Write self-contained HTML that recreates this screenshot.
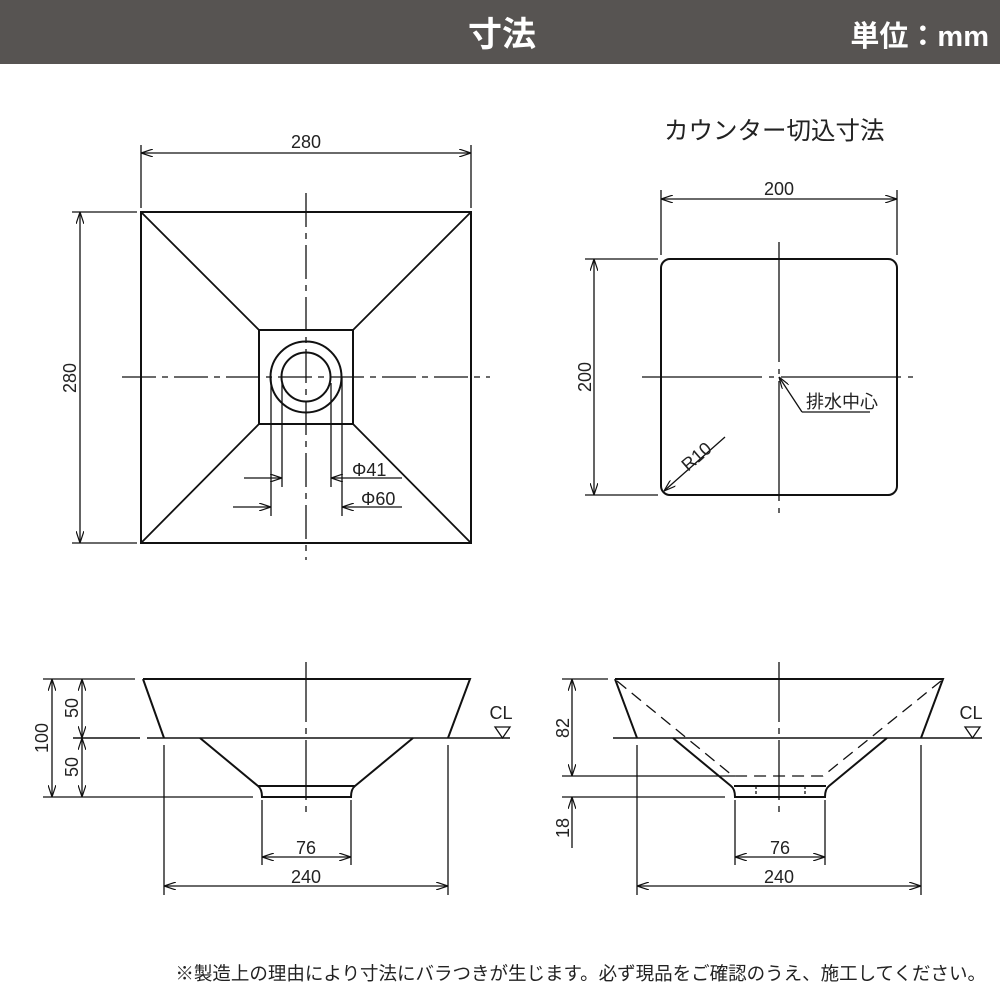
<!DOCTYPE html>
<html><head><meta charset="utf-8"><style>
html,body{margin:0;padding:0;background:#fff}
svg{display:block}
text{font-family:"Liberation Sans","Noto Sans CJK JP",sans-serif;fill:#222}
</style></head><body>
<svg width="1000" height="1000" viewBox="0 0 1000 1000" xmlns="http://www.w3.org/2000/svg">
<defs>
<marker id="a" viewBox="0 0 12 8" refX="12" refY="4" markerWidth="12" markerHeight="8" markerUnits="userSpaceOnUse" orient="auto-start-reverse">
<path d="M0,0 L12,4 L0,8" fill="none" stroke="#111" stroke-width="1.2"/>
</marker>
</defs>
<rect x="0" y="0" width="1000" height="64" fill="#575452"/>
<text x="502" y="46" text-anchor="middle" font-size="34" font-weight="bold" style="fill:#fff">寸法</text>
<text x="989" y="46" text-anchor="end" font-size="29" font-weight="bold" style="fill:#fff">単位：mm</text>

<g stroke="#111" stroke-width="1.3" fill="none">
<rect x="141" y="212" width="330" height="331" stroke-width="2"/>
<rect x="259" y="330" width="94" height="94" stroke-width="2"/>
<path d="M141,212 L259,330 M471,212 L353,330 M141,543 L259,424 M471,543 L353,424" stroke-width="1.8"/>
<circle cx="306" cy="377" r="35.5" stroke-width="2"/>
<circle cx="306" cy="377" r="24.5" stroke-width="2"/>
<path d="M122,377 H490" stroke-dasharray="34,6,6,6"/>
<path d="M306,193 V560" stroke-dasharray="34,6,6,6"/>
<path d="M271,377 V516 M342,377 V516 M282,383 V487 M331,383 V487"/>
<path d="M244,478 H282" marker-end="url(#a)"/>
<path d="M402,478 H331" marker-end="url(#a)"/>
<path d="M233,507 H271" marker-end="url(#a)"/>
<path d="M402,507 H342" marker-end="url(#a)"/>
<path d="M141,145 V208 M471,145 V208"/>
<path d="M141,153 H471" marker-start="url(#a)" marker-end="url(#a)"/>
<path d="M72,212 H137 M72,543 H137"/>
<path d="M80,212 V543" marker-start="url(#a)" marker-end="url(#a)"/>

<rect x="661" y="259" width="236" height="236" rx="9" stroke-width="2"/>
<path d="M642,377 H916" stroke-dasharray="120,7,5,7"/>
<path d="M779,242 V515" stroke-dasharray="120,7,5,7"/>
<path d="M661,190 V255 M897,190 V255"/>
<path d="M661,199 H897" marker-start="url(#a)" marker-end="url(#a)"/>
<path d="M585,259 H658 M585,495 H658"/>
<path d="M594,259 V495" marker-start="url(#a)" marker-end="url(#a)"/>
<path d="M802,412 H870 M802,412 L779,377" marker-end="url(#a)"/>
<path d="M725,437 L664,491" marker-end="url(#a)"/>

<path d="M143,679 H470 L448,738 M143,679 L164,738" stroke-width="2"/>
<path d="M73,738 H140 M147,738 H510" stroke-width="1.5"/>
<path d="M200,738 L258,786 Q262,789 262,797 H351 Q351,789 355,786 L413,738" stroke-width="2"/>
<path d="M258,786 H355" stroke-width="2"/>
<path d="M306,662 V815" stroke-dasharray="60,6,6,6"/>
<path d="M43,679 H135 M43,797 H253"/>
<path d="M52,679 V797" marker-start="url(#a)" marker-end="url(#a)"/>
<path d="M82,679 V738" marker-start="url(#a)" marker-end="url(#a)"/>
<path d="M82,738 V797" marker-start="url(#a)" marker-end="url(#a)"/>
<path d="M164,745 V895 M448,745 V895 M262,800 V865 M351,800 V865"/>
<path d="M262,857 H351" marker-start="url(#a)" marker-end="url(#a)"/>
<path d="M164,886 H448" marker-start="url(#a)" marker-end="url(#a)"/>
<path d="M495,727 H510 L502.5,738 Z"/>

<path d="M615,679 H943 L921,738 M615,679 L637,738" stroke-width="2"/>
<path d="M613,738 H982" stroke-width="1.5"/>
<path d="M673,738 L731,786 Q735,789 735,797 H825 Q825,789 829,786 L887,738" stroke-width="2"/>
<path d="M734,786 H826" stroke-width="2"/>
<path d="M617,681 L733,776 H823 L941,681" stroke-dasharray="12,7"/>
<path d="M756,786 V797 M805,786 V797" stroke-dasharray="3,2"/>
<path d="M779,662 V815" stroke-dasharray="60,6,6,6"/>
<path d="M562,679 H608 M562,776 H735 M562,797 H725"/>
<path d="M572,679 V776" marker-start="url(#a)" marker-end="url(#a)"/>
<path d="M572,848 V797" marker-end="url(#a)"/>
<path d="M637,745 V895 M921,745 V895 M735,800 V865 M825,800 V865"/>
<path d="M735,857 H825" marker-start="url(#a)" marker-end="url(#a)"/>
<path d="M637,886 H921" marker-start="url(#a)" marker-end="url(#a)"/>
<path d="M965,727 H980 L972.5,738 Z"/>
</g>

<g font-size="18">
<text x="306" y="148" text-anchor="middle">280</text>
<text transform="translate(76,378) rotate(-90)" text-anchor="middle">280</text>
<text x="352" y="476">Φ41</text>
<text x="361" y="505">Φ60</text>
<text x="664" y="139" font-size="24.5">カウンター切込寸法</text>
<text x="779" y="195" text-anchor="middle">200</text>
<text transform="translate(591,377) rotate(-90)" text-anchor="middle">200</text>
<text x="806" y="408">排水中心</text>
<text transform="translate(688,472) rotate(-41)">R10</text>
<text x="501" y="719" text-anchor="middle">CL</text>
<text x="971" y="719" text-anchor="middle">CL</text>
<text transform="translate(48,738) rotate(-90)" text-anchor="middle">100</text>
<text transform="translate(78,708) rotate(-90)" text-anchor="middle">50</text>
<text transform="translate(78,767) rotate(-90)" text-anchor="middle">50</text>
<text x="306" y="854" text-anchor="middle">76</text>
<text x="306" y="883" text-anchor="middle">240</text>
<text transform="translate(569,728) rotate(-90)" text-anchor="middle">82</text>
<text transform="translate(569,828) rotate(-90)" text-anchor="middle">18</text>
<text x="780" y="854" text-anchor="middle">76</text>
<text x="779" y="883" text-anchor="middle">240</text>
<text x="986" y="980" text-anchor="end" font-size="18.5">※製造上の理由により寸法にバラつきが生じます。必ず現品をご確認のうえ、施工してください。</text>
</g>
</svg>
</body></html>
